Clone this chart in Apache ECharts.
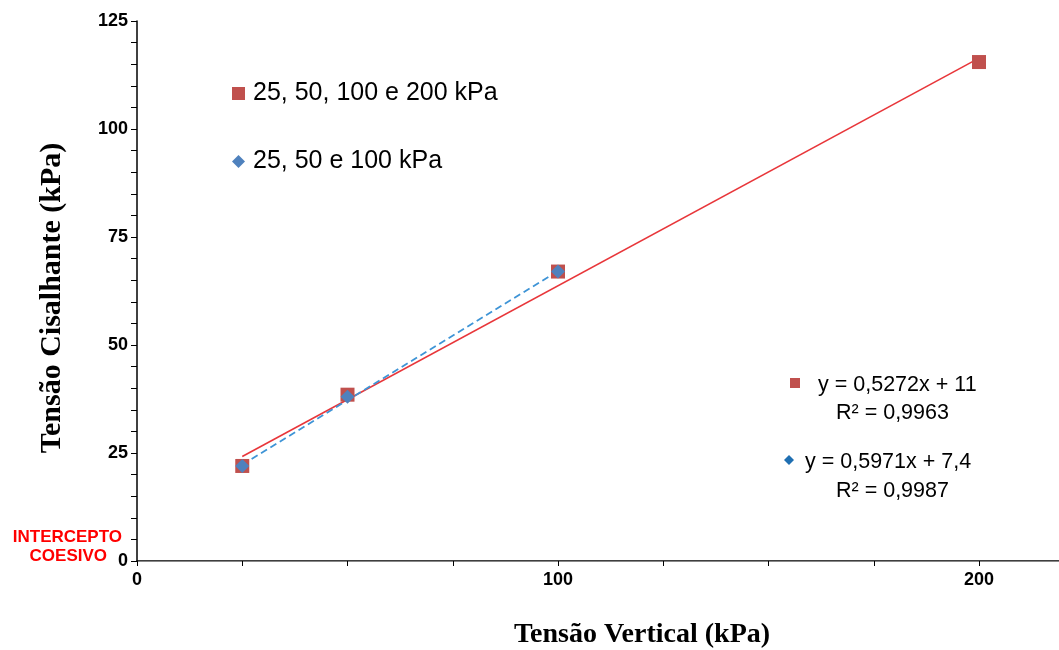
<!DOCTYPE html>
<html>
<head>
<meta charset="utf-8">
<script src="https://cdn.jsdelivr.net/npm/echarts@6/dist/echarts.min.js"></script>
<style>html,body{margin:0;padding:0;background:#fff}#c{width:1059px;height:650px}</style>
</head>
<body>
<div id="c"></div>
<script>
// Data
var seriesNames = ['25, 50, 100 e 200 kPa', '25, 50 e 100 kPa'];
var xAll = [25, 50, 100, 200];
var yAll = [22, 38.5, 67, 115.5];
var xPart = [25, 50, 100];
var yPart = [22, 38, 67];
// trendline endpoints
var trendAll = [[25, 24.2], [200, 116.4]];
var trendPart = [[25, 22.3], [100, 67.1]];
var eqAll = ['y = 0,5272x + 11', 'R² = 0,9963'];
var eqPart = ['y = 0,5971x + 7,4', 'R² = 0,9987'];
var xTickLabels = [0, 100, 200];
var yTickLabels = [0, 25, 50, 75, 100, 125];

function pairs(xs, ys) { return xs.map(function (x, i) { return [x, ys[i]]; }); }

var chart = echarts.init(document.getElementById('c'));
var tickFont = { color: '#000', fontFamily: 'Liberation Sans, Arial', fontWeight: 'bold', fontSize: 18 };
chart.setOption({
  animation: false,
  grid: { left: 137, top: 21, right: 0, bottom: 89, containLabel: false, outerBoundsMode: 'none' },
  legend: {
    orient: 'vertical', left: 227, top: 76, itemGap: 43,
    itemWidth: 13, itemHeight: 13,
    data: [{ name: seriesNames[0], icon: 'rect' }, { name: seriesNames[1], icon: 'diamond' }],
    textStyle: { fontFamily: 'Liberation Sans, Arial', fontSize: 25, color: '#000', padding: [0, 0, 0, 3] }
  },
  xAxis: [{
    type: 'value', min: 0, max: 219, interval: 25,
    splitLine: { show: false },
    axisLine: { onZero: false, lineStyle: { color: '#000', width: 1.5 } },
    axisTick: { show: true, inside: false, length: 5, lineStyle: { color: '#000' } },
    axisLabel: Object.assign({ margin: 10, formatter: function (v) { return xTickLabels.indexOf(v) >= 0 ? String(v) : ''; }, showMaxLabel: false }, tickFont),
    name: 'Tensão Vertical (kPa)', nameLocation: 'middle', nameGap: 60,
    nameTextStyle: { fontFamily: 'Liberation Serif, Times New Roman', fontWeight: 'bold', fontSize: 28, color: '#000', padding: [0, 0, 0, 88] }
  }, {
    type: 'value', position: 'top', min: 0, max: 219,
    splitLine: { show: false }, axisTick: { show: false }, axisLabel: { show: false },
    axisLine: { show: true, lineStyle: { color: '#888', width: 1 } }
  }],
  yAxis: {
    type: 'value', min: 0, max: 125, interval: 5,
    splitLine: { show: false },
    axisLine: { onZero: false, lineStyle: { color: '#000', width: 1.5 } },
    axisTick: { show: true, inside: false, length: 6, lineStyle: { color: '#000' } },
    axisLabel: Object.assign({ margin: 9, formatter: function (v) { return yTickLabels.indexOf(v) >= 0 ? String(v) : ''; } }, tickFont),
    name: 'Tensão Cisalhante (kPa)', nameLocation: 'middle', nameGap: 70,
    nameTextStyle: { fontFamily: 'Liberation Serif, Times New Roman', fontWeight: 'bold', fontSize: 30, color: '#000', padding: [0, 14, 0, 0] }
  },
  series: [
    { name: 'trendAll', type: 'line', data: trendAll, symbol: 'none', silent: true,
      lineStyle: { color: '#E8363A', width: 1.6 }, z: 2 },
    { name: 'trendPart', type: 'line', data: trendPart, symbol: 'none', silent: true,
      lineStyle: { color: '#3E94D6', width: 1.8, type: [7, 4] }, z: 2 },
    { name: seriesNames[0], type: 'scatter', data: pairs(xAll, yAll), symbol: 'rect', symbolSize: 14,
      itemStyle: { color: '#C0504D', opacity: 1 }, z: 3 },
    { name: seriesNames[1], type: 'scatter', data: pairs(xPart, yPart), symbol: 'diamond', symbolSize: 14,
      itemStyle: { color: '#4F81BD', opacity: 1 }, z: 4 }
  ],
  graphic: [
    { type: 'rect', left: 790, top: 378, shape: { width: 10, height: 10 }, style: { fill: '#C0504D' } },
    { type: 'text', left: 818, top: 374, style: { text: eqAll[0], font: '21.5px "Liberation Sans", Arial', fill: '#000' } },
    { type: 'text', left: 836, top: 402, style: { text: eqAll[1], font: '21.5px "Liberation Sans", Arial', fill: '#000' } },
    { type: 'polygon', shape: { points: [[789, 455], [794, 460], [789, 465], [784, 460]] }, style: { fill: '#1F6FB2' } },
    { type: 'text', left: 805, top: 451, style: { text: eqPart[0], font: '21.5px "Liberation Sans", Arial', fill: '#000' } },
    { type: 'text', left: 836, top: 480, style: { text: eqPart[1], font: '21.5px "Liberation Sans", Arial', fill: '#000' } },
    { type: 'text', right: 937, top: 529, style: { text: 'INTERCEPTO', font: 'bold 17px "Liberation Sans", Arial', fill: '#FF0000', textAlign: 'right' } },
    { type: 'text', right: 952, top: 548, style: { text: 'COESIVO', font: 'bold 17px "Liberation Sans", Arial', fill: '#FF0000', textAlign: 'right' } }
  ]
});
</script>
</body>
</html>
